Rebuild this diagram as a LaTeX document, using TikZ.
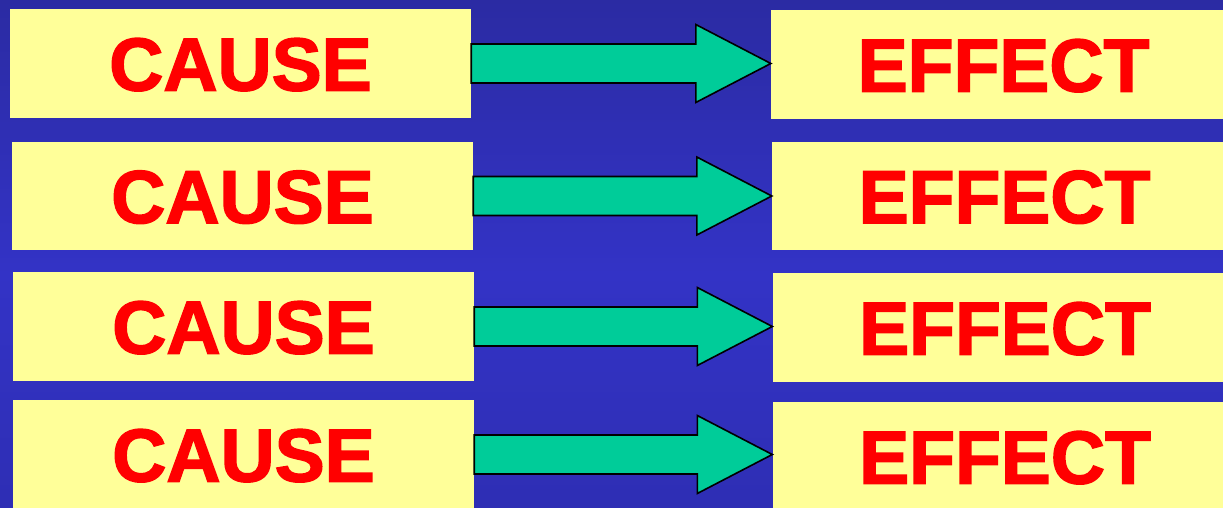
\documentclass[tikz,border=0pt]{standalone}
\usepackage{fontspec}
\setmainfont{Liberation Sans}
\newfontfamily\slidefont{Liberation Sans Bold}[FakeBold=2]

\definecolor{bgTop}{RGB}{43,43,163}
\definecolor{bgMid}{RGB}{51,51,198}
\definecolor{bgBottom}{RGB}{46,46,180}
\definecolor{boxColor}{RGB}{255,255,153}
\definecolor{wordColor}{RGB}{255,0,0}
\definecolor{arrowColor}{RGB}{0,204,153}

\pgfdeclareverticalshading{slideBg}{100bp}{color(0bp)=(bgBottom); color(25bp)=(bgBottom);
  color(48bp)=(bgMid); color(75bp)=(bgTop); color(100bp)=(bgTop)}

\tikzset{
  wordbox/.style={fill=boxColor, inner sep=0pt, minimum height=109pt,
    text height=54pt, text depth=0pt,
    text=wordColor, font=\slidefont\fontsize{75}{80}\selectfont},
  causebox/.style={wordbox, minimum width=461pt},
  effectbox/.style={wordbox, minimum width=465pt},
  arrowbody/.style={fill=arrowColor, draw=black, line width=1.6pt, line join=miter}
}

\begin{document}
\begin{tikzpicture}[x=1pt,y=-1pt]
  \useasboundingbox (0,0) rectangle (1223,508);
  \clip (0,0) rectangle (1223,508);
  \shade[shading=slideBg] (0,0) rectangle (1223,508);
  % Causes
  \node[causebox] (cause1) at (240.5,63.5) {CAUSE};
  \node[causebox, minimum height=108pt] (cause2) at (242.5,196) {CAUSE};
  \node[causebox] (cause3) at (243.5,326.5) {CAUSE};
  \node[causebox] (cause4) at (243.5,454.5) {CAUSE};
  % Effects
  \node[effectbox] (effect1) at (1003.5,64.5) {EFFECT};
  \node[effectbox, minimum height=108pt] (effect2) at (1004.5,196) {EFFECT};
  \node[effectbox] (effect3) at (1005,327.5) {EFFECT};
  \node[effectbox] (effect4) at (1005,456.5) {EFFECT};
  % Arrows
  \coordinate (tip1) at (cause1.east -| effect1.west);
  \draw[arrowbody] ([yshift=19.5pt]cause1.east) -- ([xshift=-75pt,yshift=19.5pt]tip1)
    -- ([xshift=-75pt,yshift=39pt]tip1) -- (tip1) -- ([xshift=-75pt,yshift=-39pt]tip1)
    -- ([xshift=-75pt,yshift=-19.5pt]tip1) -- ([yshift=-19.5pt]cause1.east) -- cycle;
  \coordinate (tip2) at (cause2.east -| effect2.west);
  \draw[arrowbody] ([yshift=19.5pt]cause2.east) -- ([xshift=-75pt,yshift=19.5pt]tip2)
    -- ([xshift=-75pt,yshift=39pt]tip2) -- (tip2) -- ([xshift=-75pt,yshift=-39pt]tip2)
    -- ([xshift=-75pt,yshift=-19.5pt]tip2) -- ([yshift=-19.5pt]cause2.east) -- cycle;
  \coordinate (tip3) at (cause3.east -| effect3.west);
  \draw[arrowbody] ([yshift=19.5pt]cause3.east) -- ([xshift=-75pt,yshift=19.5pt]tip3)
    -- ([xshift=-75pt,yshift=39pt]tip3) -- (tip3) -- ([xshift=-75pt,yshift=-39pt]tip3)
    -- ([xshift=-75pt,yshift=-19.5pt]tip3) -- ([yshift=-19.5pt]cause3.east) -- cycle;
  \coordinate (tip4) at (cause4.east -| effect4.west);
  \draw[arrowbody] ([yshift=19.5pt]cause4.east) -- ([xshift=-75pt,yshift=19.5pt]tip4)
    -- ([xshift=-75pt,yshift=39pt]tip4) -- (tip4) -- ([xshift=-75pt,yshift=-39pt]tip4)
    -- ([xshift=-75pt,yshift=-19.5pt]tip4) -- ([yshift=-19.5pt]cause4.east) -- cycle;
\end{tikzpicture}
\end{document}
